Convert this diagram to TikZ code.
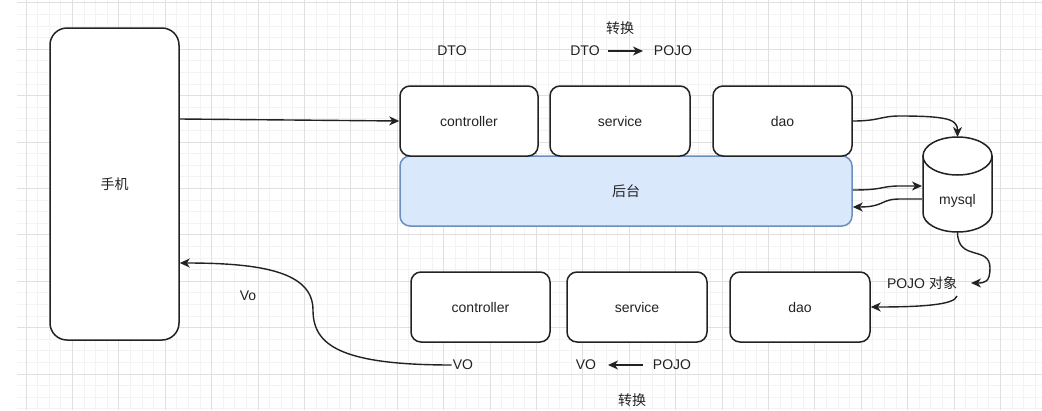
\documentclass[tikz,border=0pt]{standalone}
\usepackage{fontspec}
\setmainfont{Liberation Sans}
\newfontfamily\cjk{Noto Sans CJK SC}
\usetikzlibrary{arrows.meta,calc}
\definecolor{gridminor}{HTML}{F3F3F3}
\definecolor{gridmajor}{HTML}{E0E0E0}
\definecolor{bgfill}{HTML}{DAE8FC}
\definecolor{bgdraw}{HTML}{6C8EBF}
\definecolor{ink}{HTML}{222222}
\begin{document}
\begin{tikzpicture}[x=1pt,y=-1pt,
  font=\fontsize{14}{16}\selectfont,
  box/.style={draw=ink,line width=1.5pt,fill=white,rounded corners=10pt,minimum width=139pt,minimum height=70pt,inner sep=0pt,text=ink},
  lbl/.style={inner sep=1pt,text=ink},
  conn/.style={draw=ink,line width=1.4pt,-{Stealth[length=10pt,width=9pt,inset=3pt]}},
  plain/.style={draw=ink,line width=1.4pt}]
\useasboundingbox (0,0) rectangle (1042,410);
\fill[white] (0,0) rectangle (1042,410);
% grid
\begin{scope}
\clip (17,0) rectangle (1042,410);
\foreach \i in {0,...,89} {\draw[gridminor,line width=0.8pt] ({14.4+11.6*\i},0) -- ({14.4+11.6*\i},410);}
\foreach \i in {0,...,36} {\draw[gridminor,line width=0.8pt] (17,{2.8+11.6*\i}) -- (1042,{2.8+11.6*\i});}
\foreach \i in {0,...,22} {\draw[gridmajor,line width=0.9pt] ({26+46.4*\i},0) -- ({26+46.4*\i},410);}
\foreach \i in {0,...,9} {\draw[gridmajor,line width=0.9pt] (17,{2.8+46.4*\i}) -- (1042,{2.8+46.4*\i});}
\end{scope}
% phone
\node[box,rounded corners=17pt,minimum width=129pt,minimum height=312pt] (phone) at (114.5,184) {{\cjk 手机}};
% back end
\node[draw=bgdraw,fill=bgfill,line width=1.5pt,rounded corners=10pt,minimum width=452pt,minimum height=70pt,inner sep=0pt,text=ink] (backend) at (626,191) {{\cjk 后台}};
\node[box,minimum width=138pt] (ctrlA) at (469,121) {controller};
\node[box,minimum width=140pt] (servA) at (620,121) {service};
\node[box] (daoA) at (782.5,121) {dao};
\node[box] (ctrlB) at (480.5,307) {controller};
\node[box,minimum width=140pt] (servB) at (637,307) {service};
\node[box,minimum width=140pt] (daoB) at (800,307) {dao};
% mysql cylinder
\filldraw[draw=ink,fill=white,line width=1.5pt] (923,156) -- (923,213)
  .. controls (923,223.5) and (938.4,232) .. (957.5,232)
  .. controls (976.6,232) and (992,223.5) .. (992,213) -- (992,156) -- cycle;
\filldraw[draw=ink,fill=white,line width=1.5pt] (957.5,156) ellipse [x radius=34.5, y radius=19];
\node[lbl] (mysql) at (957.5,201) {mysql};
\coordinate (dbtop) at (957.5,137);
\coordinate (dbbot) at (957.5,232);
\coordinate (dbinA) at (922,186);
\coordinate (dboutA) at (922,199);
% labels
\node[lbl] (zh1) at (620,28) {{\cjk 转换}};
\node[lbl] (dto1) at (452,51) {DTO};
\node[lbl] (dto2) at (585,51) {DTO};
\node[lbl] (pojo1) at (673,51) {POJO};
\node[lbl] (pojoobj) at (922,283) {POJO {\cjk 对象}};
\coordinate (pojotip) at (971,283);
\node[lbl] (vo1) at (248,296) {Vo};
\node[lbl] (vo2) at (463,365) {VO};
\node[lbl] (vo3) at (586,365) {VO};
\node[lbl] (pojo2) at (672,365) {POJO};
\node[lbl] (zh2) at (632,400) {{\cjk 转换}};
% connectors
\draw[conn] (phone.east |- 0,119) -- (ctrlA.west);
\draw[conn] (608,51) -- (643,51);
\draw[conn] (643,365) -- (608,365);
\draw[conn] (daoA.east) .. controls (880,121) and (880,116) .. (900,116)
  .. controls (950,116) and (957.5,120) .. (dbtop);
\draw[conn] (backend.east |- 0,190) .. controls (885,190) and (880,186) .. (900,186) -- (dbinA);
\draw[conn] (dboutA) -- (900,199) .. controls (880,199) and (885,207) .. (backend.east |- 0,207);
\draw[conn] (dbbot) .. controls (957.5,262) and (990,245) .. (990,268)
  .. controls (990,282) and (985,283) .. (pojotip);
\draw[conn] (957,296) .. controls (955,305) and (920,307) .. (daoB.east);
\draw[conn] (vo2.west) .. controls (340,365) and (313,345) .. (313,310)
  .. controls (313,272) and (262,263) .. (phone.east |- 0,263);
\end{tikzpicture}
\end{document}
